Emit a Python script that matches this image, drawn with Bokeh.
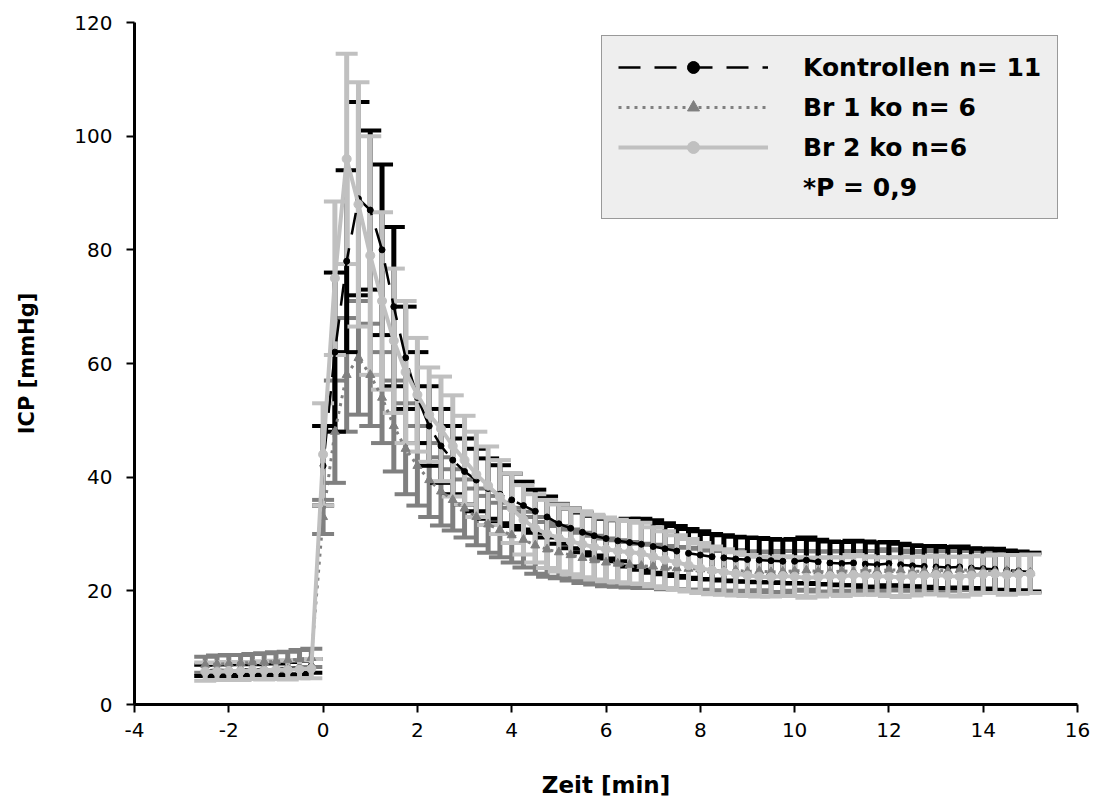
from bokeh.plotting import figure
from bokeh.models import (ColumnDataSource, Whisker, TeeHead, Legend, LegendItem,
                          Range1d, FixedTicker)
from bokeh.embed import file_html
from bokeh.resources import INLINE

# ---------------- data ----------------
time_min = [-2.5, -2.25, -2.0, -1.75, -1.5, -1.25, -1.0, -0.75, -0.5, -0.25,
            0.0, 0.25, 0.5, 0.75, 1.0, 1.25, 1.5, 1.75, 2.0, 2.25, 2.5, 2.75,
            3.0, 3.25, 3.5, 3.75, 4.0, 4.25, 4.5, 4.75, 5.0, 5.25, 5.5, 5.75,
            6.0, 6.25, 6.5, 6.75, 7.0, 7.25, 7.5, 7.75, 8.0, 8.25, 8.5, 8.75,
            9.0, 9.25, 9.5, 9.75, 10.0, 10.25, 10.5, 10.75, 11.0, 11.25, 11.5, 11.75,
            12.0, 12.25, 12.5, 12.75, 13.0, 13.25, 13.5, 13.75, 14.0, 14.25, 14.5, 14.75,
            15.0]

kontrollen_mean = [6.0, 6.1, 6.0, 6.2, 6.1, 6.3, 6.2, 6.4, 6.5, 6.8,
                   42, 62, 78, 89, 87, 80, 70, 61, 54, 49,
                   45.5, 43, 41, 39.5, 38, 37, 36, 35, 34, 33,
                   31.8, 31.0, 30.3, 29.7, 29.2, 28.8, 28.5, 28.2, 27.8, 27.4,
                   27.0, 26.6, 26.3, 26.0, 25.8, 25.6, 25.5, 25.4, 25.3, 25.2,
                   25.2, 25.4, 25.1, 24.9, 24.8, 24.9, 24.7, 24.6, 24.8, 24.6,
                   24.4, 24.3, 24.2, 24.1, 24.2, 24.0, 23.9, 23.8, 23.6, 23.5,
                   23.3]
kontrollen_sd = [1.0, 1.0, 1.1, 1.0, 1.0, 1.1, 1.0, 1.1, 1.2, 1.2,
                 7, 14, 16, 17, 14, 15, 14, 9, 8, 7,
                 6.5, 6, 5.8, 5.5, 5.3, 5.1, 4.6, 4.2, 3.8, 3.6,
                 3.5, 3.5, 3.5, 3.5, 3.5, 3.6, 4.2, 4.5, 4.6, 4.5,
                 4.4, 4.3, 4.2, 4.0, 4.0, 3.9, 3.9, 3.9, 3.8, 3.8,
                 3.9, 4.0, 3.9, 3.8, 3.8, 3.9, 4.0, 3.9, 3.8, 3.7,
                 3.6, 3.6, 3.7, 3.6, 3.6, 3.5, 3.5, 3.6, 3.5, 3.4,
                 3.4]

br1_mean = [7.0, 7.1, 7.2, 7.3, 7.4, 7.5, 7.6, 7.8, 8.0, 8.2,
            33, 48, 58, 61, 58, 54, 49, 45, 42, 39.5,
            37.5, 36, 34.5, 33, 31.7, 30.7, 29.8, 29, 28, 27.3,
            26.8, 26.3, 25.8, 25.4, 25.0, 24.8, 24.6, 24.4, 24.3, 24.1,
            24.0, 23.9, 23.8, 23.6, 23.5, 23.6, 23.4, 23.5, 23.3, 23.4,
            23.5, 23.6, 23.4, 23.3, 23.5, 23.4, 23.6, 23.5, 23.7, 23.6,
            23.4, 23.5, 23.6, 23.5, 23.7, 23.6, 23.5, 23.4, 23.5, 23.3,
            23.2]
br1_sd = [1.4, 1.5, 1.5, 1.4, 1.5, 1.5, 1.6, 1.5, 1.6, 1.6,
          3, 9, 10, 10, 9, 8, 8, 8, 7, 6.5,
          6, 5.4, 5.1, 5, 5, 4.8, 4.8, 4.9, 5, 4.8,
          4.6, 4.5, 4.4, 4.3, 4.2, 4.1, 4.0, 3.9, 3.8, 3.8,
          3.7, 3.7, 3.6, 3.5, 3.5, 3.6, 3.5, 3.4, 3.5, 3.6,
          3.5, 3.4, 3.5, 3.6, 3.5, 3.5, 3.4, 3.5, 3.6, 3.5,
          3.4, 3.5, 3.6, 3.5, 3.5, 3.4, 3.5, 3.6, 3.5, 3.4,
          3.5]

br2_mean = [5.8, 5.8, 5.9, 5.9, 6.0, 6.0, 6.1, 6.1, 6.2, 6.3,
            44, 75, 96, 88, 79, 71, 64, 58.5, 54.5, 51,
            48.5, 45.5, 43, 40.5, 38.5, 36.5, 34.5, 32.5, 31, 30,
            29.3, 28.7, 28.2, 27.7, 27.3, 27.0, 26.8, 26.6, 26.0, 25.5,
            25.0, 24.5, 24.0, 23.6, 23.3, 23.0, 22.7, 22.5, 22.4, 22.6,
            22.5, 22.3, 22.4, 22.6, 22.5, 22.8, 22.7, 22.6, 22.5, 22.4,
            22.6, 22.7, 22.8, 22.6, 22.5, 22.7, 22.9, 23.0, 22.8, 22.9,
            23.0]
br2_sd = [1.6, 1.5, 1.6, 1.6, 1.5, 1.6, 1.6, 1.7, 1.6, 1.7,
          9, 13.5, 18.5, 21.5, 21, 15.6, 12.7, 12.5, 10, 8.3,
          9.2, 8.9, 7.8, 7.5, 6.9, 6.5, 6.1, 6.1, 6.0, 6.0,
          5.9, 5.8, 5.8, 5.7, 5.6, 5.5, 5.5, 5.4, 5.2, 5.0,
          4.8, 4.6, 4.4, 4.2, 4.0, 3.8, 3.6, 3.5, 3.4, 3.5,
          3.4, 3.5, 3.4, 3.3, 3.4, 3.5, 3.4, 3.3, 3.4, 3.5,
          3.4, 3.3, 3.4, 3.4, 3.5, 3.4, 3.3, 3.4, 3.5, 3.4,
          3.4]

x_ticks = [-4, -2, 0, 2, 4, 6, 8, 10, 12, 14, 16]
y_ticks = [0, 20, 40, 60, 80, 100, 120]

labels = ["Kontrollen n= 11", "Br 1 ko n= 6", "Br 2 ko n=6", "*P = 0,9"]
colors = ["#000000", "#808080", "#c0c0c0"]


def make_src(mean, sd):
    return ColumnDataSource(dict(
        t=time_min, m=mean,
        up=[a + b for a, b in zip(mean, sd)],
        lo=[a - b for a, b in zip(mean, sd)]))


src_c = make_src(kontrollen_mean, kontrollen_sd)
src_1 = make_src(br1_mean, br1_sd)
src_2 = make_src(br2_mean, br2_sd)

# ---------------- figure ----------------
p = figure(width=1097, height=812, output_backend="svg", toolbar_location=None,
           x_range=Range1d(-4, 16), y_range=Range1d(0, 120),
           min_border_left=134, min_border_right=20,
           min_border_top=22, min_border_bottom=108)
p.outline_line_color = None
p.grid.visible = False
p.background_fill_color = "white"
p.border_fill_color = "white"


def add_err(src, color):
    w = Whisker(source=src, base="t", upper="up", lower="lo", dimension="height",
                line_color=color, line_width=5, level="underlay",
                upper_head=TeeHead(size=22, line_color=color, line_width=4),
                lower_head=TeeHead(size=22, line_color=color, line_width=4))
    p.add_layout(w)


add_err(src_1, colors[1])
add_err(src_c, colors[0])
add_err(src_2, colors[2])

lc = p.line("t", "m", source=src_c, line_color=colors[0], line_width=2.5,
            line_dash="22 14")
sc = p.scatter("t", "m", source=src_c, marker="circle", size=6,
               fill_color=colors[0], line_color=colors[0])
l1 = p.line("t", "m", source=src_1, line_color=colors[1], line_width=3,
            line_dash="3 5")
s1 = p.scatter("t", "m", source=src_1, marker="triangle", size=9,
               fill_color=colors[1], line_color=colors[1])
l2 = p.line("t", "m", source=src_2, line_color=colors[2], line_width=4)
s2 = p.scatter("t", "m", source=src_2, marker="circle", size=9,
               fill_color=colors[2], line_color=colors[2])
dummy = p.line(x=[], y=[], line_alpha=0)

# ---------------- axes ----------------
p.xaxis.ticker = FixedTicker(ticks=x_ticks)
p.yaxis.ticker = FixedTicker(ticks=y_ticks)
p.xaxis.major_label_overrides = {t: str(t) for t in x_ticks}
p.xaxis.axis_label = "Zeit [min]"
p.yaxis.axis_label = "ICP [mmHg]"
for ax in (p.xaxis, p.yaxis):
    ax.axis_line_width = 3
    ax.axis_line_color = "black"
    ax.major_tick_line_width = 2
    ax.major_tick_line_color = "black"
    ax.major_tick_out = 8
    ax.major_tick_in = 0
    ax.minor_tick_line_color = None
    ax.major_label_text_font = "DejaVu Sans"
    ax.major_label_text_font_size = "20px"
    ax.major_label_text_color = "black"
    ax.axis_label_text_font = "DejaVu Sans"
    ax.axis_label_text_font_style = "bold"
    ax.axis_label_text_color = "black"
p.xaxis.axis_label_text_font_size = "23px"
p.yaxis.axis_label_text_font_size = "21px"
p.xaxis.major_label_standoff = 10
p.yaxis.major_label_standoff = 14
p.xaxis.axis_label_standoff = 32
p.yaxis.axis_label_standoff = 32

# ---------------- legend ----------------
legend = Legend(items=[
    LegendItem(label=labels[0], renderers=[lc, sc]),
    LegendItem(label=labels[1], renderers=[l1, s1]),
    LegendItem(label=labels[2], renderers=[l2, s2]),
    LegendItem(label=labels[3], renderers=[dummy]),
], location=(467, 485))
legend.background_fill_color = "#eeeeee"
legend.background_fill_alpha = 1
legend.border_line_color = "#444444"
legend.border_line_width = 1.5
legend.label_text_font = "DejaVu Sans"
legend.label_text_font_style = "bold"
legend.label_text_font_size = "25px"
legend.label_text_color = "black"
legend.glyph_width = 150
legend.glyph_height = 30
legend.label_height = 30
legend.label_standoff = 35
legend.spacing = 10
legend.padding = 16
legend.margin = 0
p.add_layout(legend)

open("out.html", "w").write(file_html(p, INLINE))
